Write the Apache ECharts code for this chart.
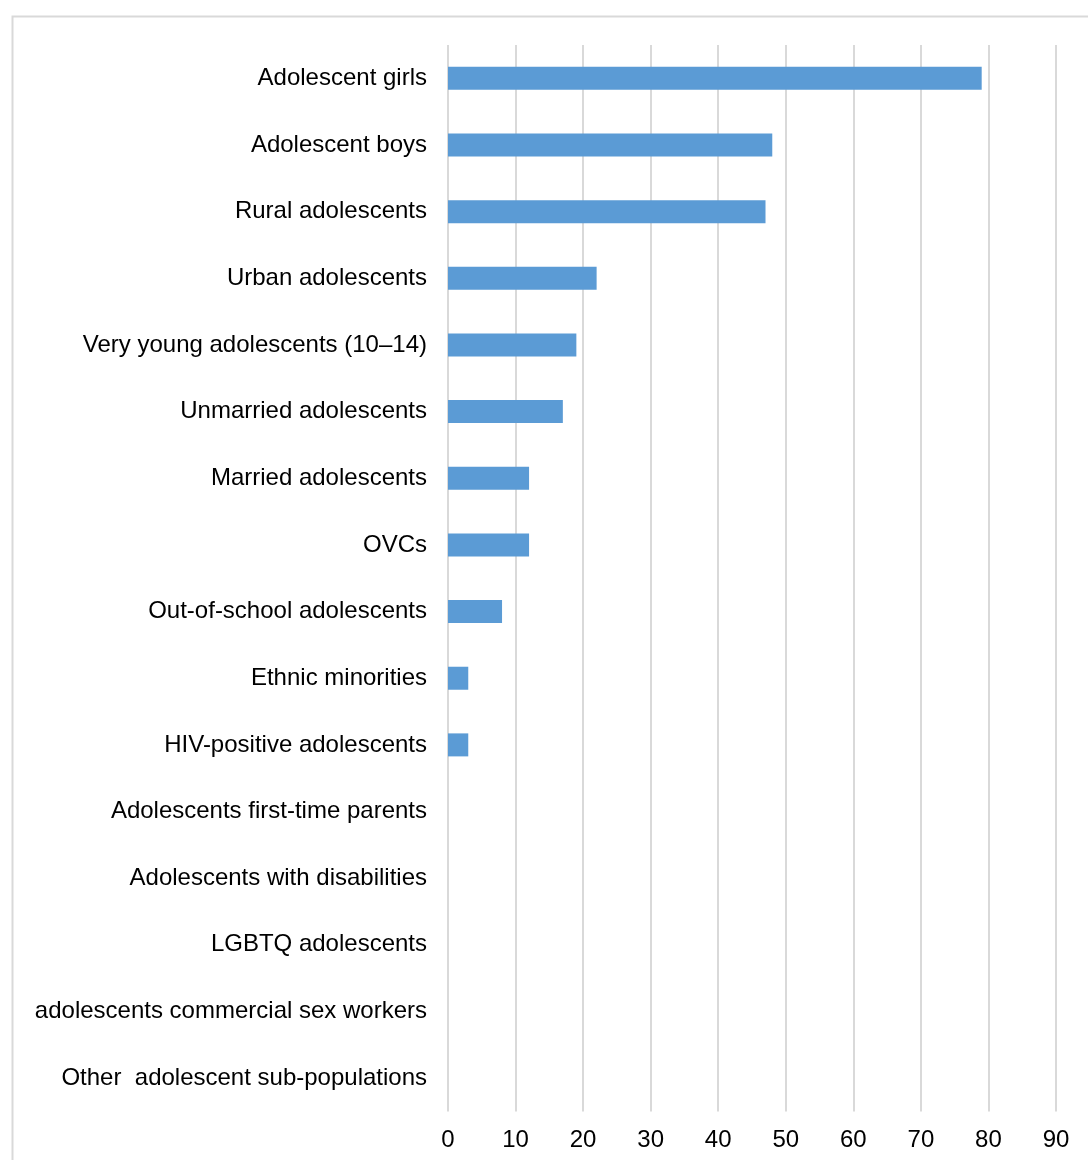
<!DOCTYPE html>
<html>
<head>
<meta charset="utf-8">
<title>Adolescent sub-populations</title>
<script src="https://cdn.jsdelivr.net/npm/echarts@6/dist/echarts.min.js"></script>
<style>
  html, body { margin: 0; padding: 0; background: #ffffff; }
  #chart { width: 1088px; height: 1160px; }
</style>
</head>
<body>
<div id="chart"></div>
<script>
// Sub-population categories, listed top to bottom
const categories = [
  'Adolescent girls',
  'Adolescent boys',
  'Rural adolescents',
  'Urban adolescents',
  'Very young adolescents (10\u201314)',
  'Unmarried adolescents',
  'Married adolescents',
  'OVCs',
  'Out-of-school adolescents',
  'Ethnic minorities',
  'HIV-positive adolescents',
  'Adolescents first-time parents',
  'Adolescents with disabilities',
  'LGBTQ adolescents',
  'adolescents commercial sex workers',
  'Other  adolescent sub-populations'
];

// Count for each category
const values = [79, 48, 47, 22, 19, 17, 12, 12, 8, 3, 3, 0, 0, 0, 0, 0];

// Value axis range
const axisMin = 0;
const axisMax = 90;
const axisStep = 10;

const FONT = 'Liberation Sans, Arial, sans-serif';

const chart = echarts.init(document.getElementById('chart'), null, { renderer: 'canvas' });

chart.setOption({
  backgroundColor: '#ffffff',
  animation: false,
  textStyle: { fontFamily: FONT },
  graphic: [{
    type: 'rect',
    left: 10,
    top: 14,
    shape: { width: 1200, height: 1300 },
    style: { fill: 'none', stroke: '#d9d9d9', lineWidth: 2 },
    silent: true,
    z: -1
  }],
  grid: { left: 448, right: 32, top: 45, bottom: 48.5, containLabel: false },
  xAxis: {
    type: 'value',
    min: axisMin,
    max: axisMax,
    interval: axisStep,
    axisLine: { show: false },
    axisTick: { show: false },
    axisLabel: { color: '#000000', fontSize: 24, margin: 17, fontFamily: FONT },
    splitLine: { show: true, lineStyle: { color: '#d9d9d9', width: 2 } }
  },
  yAxis: {
    type: 'category',
    inverse: true,
    data: categories,
    axisLine: { show: false },
    axisTick: { show: false },
    axisLabel: { color: '#000000', fontSize: 24, margin: 21, fontFamily: FONT }
  },
  series: [{
    type: 'bar',
    data: values,
    barWidth: 23,
    itemStyle: { color: '#5b9bd5' },
    z: 3
  }]
});
</script>
</body>
</html>
